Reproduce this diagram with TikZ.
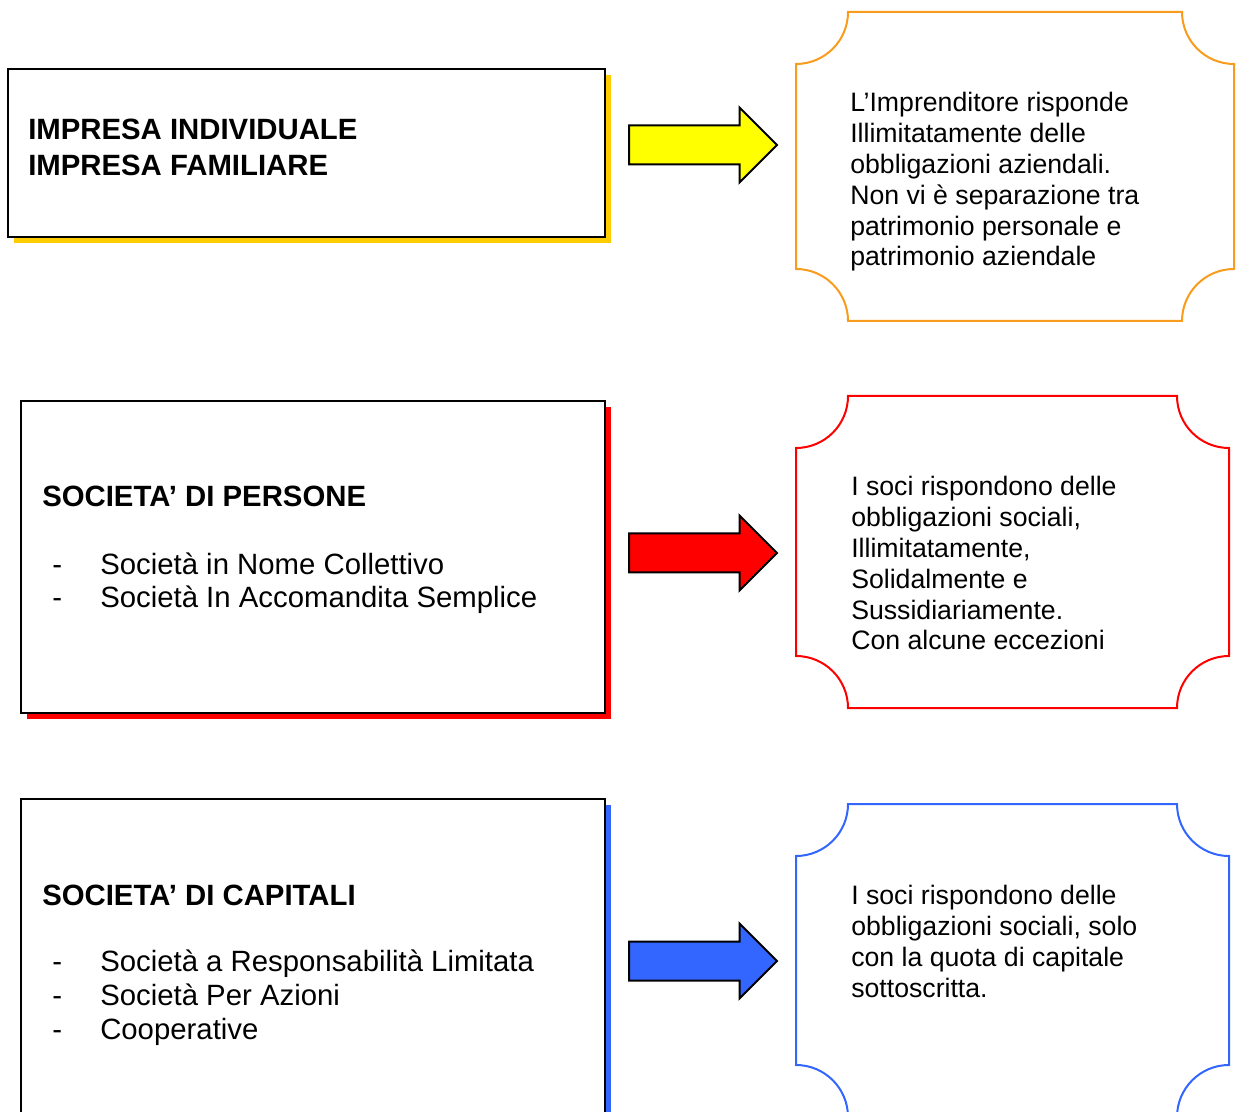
\documentclass[tikz,border=0pt]{standalone}
\usepackage{fontspec}
\setmainfont{Liberation Sans}
\usetikzlibrary{shapes.arrows,shadows}

\definecolor{giallo}{HTML}{FFFF00}
\definecolor{ombragialla}{HTML}{FFCC00}
\definecolor{rosso}{HTML}{FF0000}
\definecolor{blu}{HTML}{3366FF}
\definecolor{arancio}{HTML}{F99B1C}

% riga di elenco con trattino
\newcommand{\voce}[1]{\makebox[36pt][l]{-}#1}
% riquadro con angoli concavi: colore, x1, y1, x2, y2
\newcommand{\targa}[5]{%
  \draw[#1, line width=1.5pt]
    ({#2+52},#5) -- ({#4-52},#5) arc[start angle=180,end angle=270,radius=52]
    -- (#4,{#3+52}) arc[start angle=90,end angle=180,radius=52]
    -- ({#2+52},#3) arc[start angle=0,end angle=90,radius=52]
    -- (#2,{#5-52}) arc[start angle=270,end angle=360,radius=52] -- cycle;}

\tikzset{
  scatola/.style={draw=black, line width=1.5pt, fill=white, inner sep=0pt},
  titolo/.style={font=\fontsize{22pt}{27pt}\selectfont\bfseries, align=left, inner sep=0pt, anchor=base west},
  elenco/.style={font=\fontsize{22pt}{25.2pt}\selectfont, align=left, inner sep=0pt, anchor=base west},
  testo/.style={font=\fontsize{20pt}{23.1pt}\selectfont, align=left, inner sep=0pt, anchor=base west},
  freccia/.style={single arrow, draw=black, line width=1.5pt, inner xsep=0pt, inner ysep=13.875pt,
    minimum height=111pt, single arrow head extend=13.5pt,
    single arrow tip angle=90, anchor=tail}
}

\begin{document}
\begin{tikzpicture}[x=0.75pt, y=0.75pt]
\useasboundingbox (0,0) rectangle (1241,1111);
\clip (0,0) rectangle (1241,1111);

% impresa individuale
\node[scatola, minimum width=447.75pt, minimum height=126pt,
  drop shadow={shadow xshift=4.5pt, shadow yshift=-4.5pt, fill=ombragialla, opacity=1}]
  (imp) at (306.5,958) {};
\node[titolo] (impt) at (28,935) {IMPRESA INDIVIDUALE\\IMPRESA FAMILIARE};
\node[freccia, fill=giallo] (f1) at (628,966) {};
\targa{arancio}{796}{790}{1234}{1099}
\node[testo] (r1) at (850,845) {L’Imprenditore risponde\\Illimitatamente delle\\obbligazioni aziendali.\\Non vi è separazione tra\\patrimonio personale e\\patrimonio aziendale};

% societa di persone
\node[scatola, minimum width=438pt, minimum height=234pt,
  drop shadow={shadow xshift=4.5pt, shadow yshift=-4.5pt, fill=rosso, opacity=1}]
  (pers) at (313,554) {};
\node[titolo] (perst) at (42,604) {SOCIETA’ DI PERSONE};
\node[elenco] (persl) at (52,503) {\voce{Società in Nome Collettivo}\\\voce{Società In Accomandita Semplice}};
\node[freccia, fill=rosso] (f2) at (628,558) {};
\targa{rosso}{796}{403}{1229}{715}
\node[testo] (r2) at (851,461) {I soci rispondono delle\\obbligazioni sociali,\\Illimitatamente,\\Solidalmente e\\Sussidiariamente.\\Con alcune eccezioni};

% societa di capitali
\node[scatola, minimum width=438pt, minimum height=235.5pt,
  drop shadow={shadow xshift=4.5pt, shadow yshift=-4.5pt, fill=blu, opacity=1}]
  (cap) at (313,155) {};
\node[titolo] (capt) at (42,206) {SOCIETA’ DI CAPITALI};
\node[elenco] (capl) at (52,72) {\voce{Società a Responsabilità Limitata}\\\voce{Società Per Azioni}\\\voce{Cooperative}};
\node[freccia, fill=blu] (f3) at (628,150) {};
\targa{blu}{796}{-6}{1229}{307}
\node[testo] (r3) at (851,114) {I soci rispondono delle\\obbligazioni sociali, solo\\con la quota di capitale\\sottoscritta.};
\end{tikzpicture}
\end{document}
